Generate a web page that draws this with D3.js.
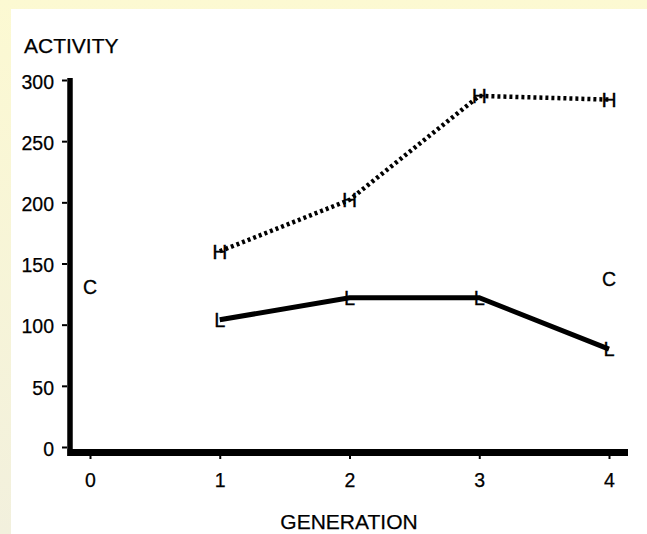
<!DOCTYPE html>
<html><head><meta charset="utf-8">
<script src="https://cdn.jsdelivr.net/npm/d3@7"></script>
<style>html,body{margin:0;padding:0;overflow:hidden;}svg{display:block;}</style>
</head><body>
<script>
const generations = [1, 2, 3, 4];
const highValues = [160, 202, 287, 284];
const lowValues = [104, 122, 122, 80];
const controlGenerations = [0, 4];
const controlValues = [131, 137];
const xTicks = [0, 1, 2, 3, 4];
const yTicks = [0, 50, 100, 150, 200, 250, 300];

const W = 647, H = 534;
const svg = d3.select("body").append("svg").attr("width", W).attr("height", H);
const defs = svg.append("defs");
const grad = defs.append("linearGradient").attr("id", "bg").attr("x1", 0).attr("y1", 0).attr("x2", 0).attr("y2", 1);
grad.append("stop").attr("offset", "0%").attr("stop-color", "#fcf9d2");
grad.append("stop").attr("offset", "100%").attr("stop-color", "#f2f0dd");
svg.append("rect").attr("width", W).attr("height", H).attr("fill", "url(#bg)");
svg.append("rect").attr("x", 11).attr("y", 9).attr("width", W - 11).attr("height", H - 9).attr("fill", "#ffffff");

const x = d3.scaleLinear().domain([0, 4]).range([90, 609]);
const y = d3.scaleLinear().domain([0, 300]).range([447, 80]);
const font = "'Liberation Sans', Arial, Helvetica, sans-serif";

// axis lines
svg.append("line").attr("x1", 70).attr("x2", 70).attr("y1", 78).attr("y2", 456)
  .attr("stroke", "#000").attr("stroke-width", 5.5);
svg.append("line").attr("x1", 67.5).attr("x2", 628).attr("y1", 452.5).attr("y2", 452.5)
  .attr("stroke", "#000").attr("stroke-width", 7);

// y axis
const yAxis = d3.axisLeft(y).tickValues(yTicks).tickSize(5).tickPadding(8).tickFormat(d3.format("d"));
const yg = svg.append("g").attr("transform", "translate(67,0)").call(yAxis);
yg.select(".domain").remove();
yg.selectAll(".tick line").attr("stroke", "#000").attr("stroke-width", 2);
yg.selectAll(".tick text").attr("font-family", font).attr("font-size", 19.5).attr("fill", "#000")
  .attr("stroke", "#000").attr("stroke-width", 0.25).attr("dy", "0.42em");

// x axis
const xAxis = d3.axisBottom(x).tickValues(xTicks).tickSize(4).tickPadding(14).tickFormat(d3.format("d"));
const xg = svg.append("g").attr("transform", "translate(0,455)").call(xAxis);
xg.select(".domain").remove();
xg.selectAll(".tick line").attr("stroke", "#000").attr("stroke-width", 2);
xg.selectAll(".tick text").attr("font-family", font).attr("font-size", 19.5).attr("fill", "#000")
  .attr("stroke", "#000").attr("stroke-width", 0.25);

// titles
svg.append("text").attr("x", 24).attr("y", 53).attr("font-family", font).attr("font-size", 21)
  .attr("stroke", "#000").attr("stroke-width", 0.25).text("ACTIVITY");
svg.append("text").attr("x", 349).attr("y", 529).attr("text-anchor", "middle").attr("font-family", font).attr("font-size", 21)
  .attr("stroke", "#000").attr("stroke-width", 0.25).text("GENERATION");

const line = d3.line().x(d => x(d[0])).y(d => y(d[1]));
const hi = generations.map((g, i) => [g, highValues[i]]);
const lo = generations.map((g, i) => [g, lowValues[i]]);

svg.append("path").datum(hi).attr("d", line).attr("fill", "none").attr("stroke", "#000")
  .attr("stroke-width", 4.5).attr("stroke-dasharray", "3,3");
svg.append("path").datum(lo).attr("d", line).attr("fill", "none").attr("stroke", "#000")
  .attr("stroke-width", 5).attr("stroke-linejoin", "miter");

function markers(data, letter, size) {
  svg.append("g").selectAll("text").data(data).join("text")
    .attr("x", d => x(d[0])).attr("y", d => y(d[1]))
    .attr("dy", "0.36em").attr("text-anchor", "middle")
    .attr("font-family", font).attr("font-size", size).attr("fill", "#000")
    .attr("stroke", "#000").attr("stroke-width", 0.3).text(letter);
}
markers(hi, "H", 21);
markers(lo, "L", 20);
markers(controlGenerations.map((g, i) => [g, controlValues[i]]), "C", 19.5);
</script>
</body></html>
